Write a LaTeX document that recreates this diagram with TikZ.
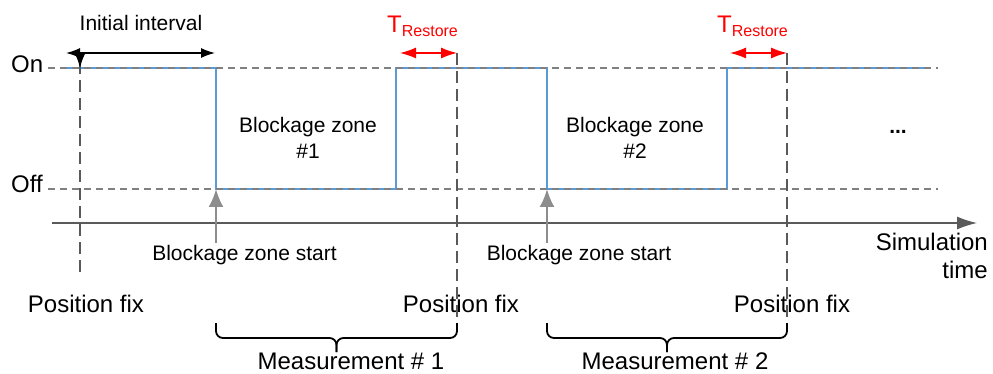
\documentclass[tikz,border=0pt]{standalone}
\usepackage{fontspec}
\setmainfont{Liberation Sans}
\usepackage{tikz}
\usetikzlibrary{positioning}
\usetikzlibrary{arrows.meta}
\tikzset{>={Latex[width=10pt,length=14pt]}}
\definecolor{sigblue}{RGB}{91,155,213}
\definecolor{levelgray}{RGB}{128,128,128}

\begin{document}
\begin{tikzpicture}[x=1pt, y=-1pt, level/.style={levelgray, line width=1.3pt, dash pattern=on 7pt off 5pt}, signal/.style={sigblue, line width=1.3pt}, fixline/.style={black!65, line width=1.3pt, dash pattern=on 12pt off 6pt}, bracket/.style={black, line width=1.8pt, rounded corners=7pt}, lbl/.style={inner sep=0pt, anchor=base, font=\fontsize{21}{25}\selectfont}, biglbl/.style={inner sep=0pt, anchor=base, font=\fontsize{24}{28}\selectfont}, trestore/.style={inner sep=0pt, anchor=base west, red, font=\fontsize{24}{28}\selectfont}]
    \useasboundingbox (0,0) rectangle (993,374);

    %Nodes
    \node[biglbl, anchor=base west](on)at(11,73){On};
    \node[biglbl, anchor=base west](off)at(11,193){Off};
    \node[lbl](initial)at(141,31){Initial interval};
    \node[trestore](restore1)at(387,33){T\raisebox{-4pt}{\fontsize{16}{18}\selectfont Restore}};
    \node[trestore](restore2)at(717,33){T\raisebox{-4pt}{\fontsize{16}{18}\selectfont Restore}};
    \node[lbl](zone1)at(308,133){Blockage zone};
    \node[lbl](zone1num)[below=6.5pt of zone1]{\#1};
    \node[lbl](zone2)at(635,133){Blockage zone};
    \node[lbl](zone2num)[below=6.5pt of zone2]{\#2};
    \node[lbl](dots)at(898,134){\textbf{...}};
    \node[lbl](start1)at(244.5,260){Blockage zone start};
    \node[lbl](start2)at(579,260){Blockage zone start};
    \node[biglbl, anchor=north east, align=right](simtime)at(988,233){Simulation\\time};
    \node[biglbl](fix0)at(86,312){Position fix};
    \node[biglbl](fix1)at(461,312){Position fix};
    \node[biglbl](fix2)at(792,312){Position fix};
    \node[biglbl](meas1)at(351,369){Measurement \# 1};
    \node[biglbl](meas2)at(675,369){Measurement \# 2};

    %Coordinates
    \coordinate (onA) at (48,68);
    \coordinate (onB) at (938,68);
    \coordinate (offA) at (48,189);
    \coordinate (offB) at (938,189);
    \coordinate (axisA) at (52,223);
    \coordinate (axisB) at (977,223);
    \coordinate (fix0top) at (80,68);
    \coordinate (fix0bot) at (80,272);
    \coordinate (fix1top) at (457,53);
    \coordinate (fix1bot) at (457,323);
    \coordinate (fix2top) at (787,53);
    \coordinate (fix2bot) at (787,323);
    \coordinate (drop1) at (216,189);
    \coordinate (drop2) at (547,189);
    \coordinate (tip1) at (336.5,352);
    \coordinate (tip2) at (667,352);

    %Signal
    \draw[signal] (65,68) -- (216,68) -- (drop1) -- (396,189) -- (396,68) -- (547,68) -- (drop2) -- (727,189) -- (727,68) -- (925,68);

    %Lines
    \draw[level] (onA) -- (onB);
    \draw[level] (offA) -- (offB);
    \draw[levelgray!70!black, line width=1.3pt, -{Latex[width=13pt,length=20pt]}] (axisA) -- (axisB);
    \draw[fixline] (fix0bot) -- ([yshift=14pt]fix0top);
    \draw[black, line width=1.3pt, ->] ([yshift=15pt]fix0top) -- (fix0top);
    \draw[fixline] (fix1top) -- (fix1bot);
    \draw[fixline] (fix2top) -- (fix2bot);
    \draw[black, line width=1.3pt, <->] (66,53) -- (215,53);
    \draw[red, line width=1.3pt, {Latex[width=11pt,length=16pt]}-{Latex[width=11pt,length=16pt]}] (400,53) -- (fix1top);
    \draw[red, line width=1.3pt, {Latex[width=11pt,length=16pt]}-{Latex[width=11pt,length=16pt]}] (730,53) -- (fix2top);
    \draw[levelgray!90, line width=2.2pt, -{Latex[width=15pt,length=18pt]}] (216,243) -- (drop1);
    \draw[levelgray!90, line width=2.2pt, -{Latex[width=15pt,length=18pt]}] (547,243) -- (drop2);

    %Braces
    \draw[bracket] (216,323) -- (216,338) -- (tip1 |- 0,338) -- (tip1);
    \draw[bracket] (fix1bot) -- (457,338) -- (tip1 |- 0,338) -- (tip1);
    \draw[bracket] (547,323) -- (547,338) -- (tip2 |- 0,338) -- (tip2);
    \draw[bracket] (fix2bot) -- (787,338) -- (tip2 |- 0,338) -- (tip2);

\end{tikzpicture}
\end{document}
